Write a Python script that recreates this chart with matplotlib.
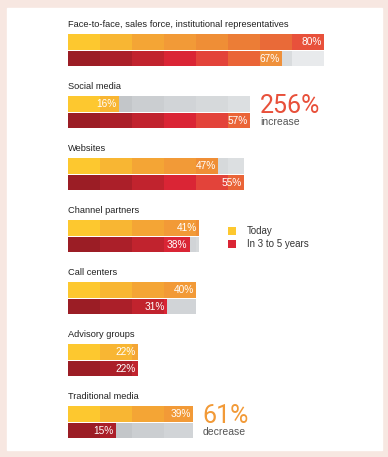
import math
import matplotlib
matplotlib.use('Agg')
import matplotlib.pyplot as plt
from matplotlib.patches import Rectangle

# datos ----------------------------------------------------------
canales = ['Face-to-face, sales force, institutional representatives',
           'Social media', 'Websites', 'Channel partners',
           'Call centers', 'Advisory groups', 'Traditional media']
hoy = [80, 16, 47, 41, 40, 22, 39]
futuro = [67, 57, 55, 38, 31, 22, 15]
series = ['Today', 'In 3 to 5 years']

# notas de cambio (indice del canal, numero, texto)
nota_idx = [1, 6]
nota_num = ['256%', '61%']
nota_txt = ['increase', 'decrease']

# colores por tramo de 10%
pal_hoy = ['#FDC82F', '#F8B633', '#F4A535', '#F29A37', '#EF8E36',
           '#EC7D36', '#E96A38', '#E8513B']
pal_fut = ['#9B1D25', '#AB1F29', '#C1232E', '#DA2535', '#E3433A',
           '#EA6437', '#EF903A', '#F0913A']
grises = ['#C0C3C6', '#C3C6C9', '#CBCED1', '#D1D4D7', '#D6D9DB',
          '#DCDFE1', '#D9DCDE', '#E8EAEC']
col_nota = ['#E8503A', '#F29A37']
col_ley = ['#FDC82F', '#DA2535']

W, H = 388, 457
fig = plt.figure(figsize=(W / 100, H / 100), dpi=100)
fig.patch.set_facecolor('#F7E7E1')
fig.add_artist(Rectangle((7 / W, 1 - 450 / H), 375 / W, 442 / H,
                         transform=fig.transFigure, color='white', zorder=0))

ax = fig.add_axes([0, 0, 1, 1])
ax.set_facecolor('none')
px_pct = 3.2   # pixeles por punto porcentual
unit = 16.0    # pixeles por unidad en y
ax.set_xlim(-68 / px_pct, (W - 68) / px_pct)
ax.set_ylim((H - 42) / unit, -42 / unit)
ax.axis('off')

fuente = 'Liberation Sans'
G = 62 / unit  # separacion entre grupos


def barra(y, v, m, pal):
    for k in range(int(math.ceil(m / 10))):
        lo, hi = 10 * k, min(10 * k + 10, m)
        if v > lo:
            ax.barh(y, min(hi, v) - lo, left=lo, height=0.97,
                    color=pal[k], linewidth=0)
        if hi > v:
            ini = max(lo, v)
            ax.barh(y, hi - ini, left=ini, height=0.97,
                    color=grises[k], linewidth=0)
    ax.text(v - 0.7, y + 0.03, f'{v}%', ha='right', va='center',
            color='white', fontsize=7.3, family=fuente)


for i, nombre in enumerate(canales):
    y0 = i * G
    m = max(hoy[i], futuro[i])
    ax.text(0, y0 - 1.12, nombre, ha='left', va='center', color='#222222',
            fontsize=6.7, family=fuente)
    barra(y0, hoy[i], m, pal_hoy)
    barra(y0 + 1.03, futuro[i], m, pal_fut)

# notas de aumento / disminucion
for j, i in enumerate(nota_idx):
    m = max(hoy[i], futuro[i])
    y0 = i * G
    ax.text(m + 2.9, y0 + 0.15, nota_num[j], ha='left', va='center',
            color=col_nota[j], fontsize=18, family='Roboto')
    ax.text(m + 3.2, y0 + 1.15, nota_txt[j], ha='left', va='center',
            color='#555555', fontsize=7.5, family=fuente)

# leyenda
ley_y = [3 * G + (232 - 229) / unit, 3 * G + (245 - 229) / unit]
for s, c, yy in zip(series, col_ley, ley_y):
    ax.scatter([51.3], [yy], marker='s', s=30, color=c, linewidths=0)
    ax.text(56, yy, s, ha='left', va='center', color='#333333',
            fontsize=7, family=fuente)

fig.savefig('out.png', dpi=100, facecolor=fig.get_facecolor())
